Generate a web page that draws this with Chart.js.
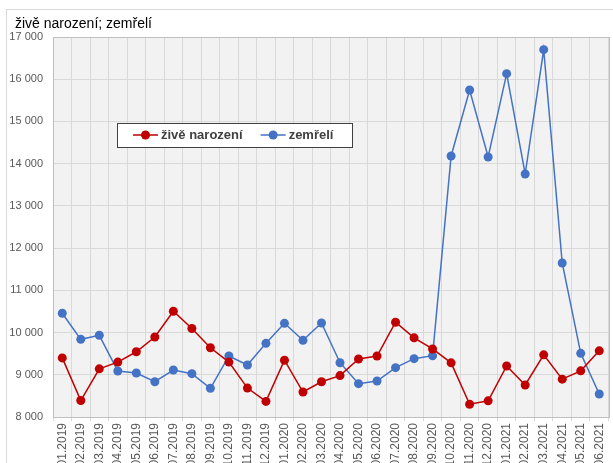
<!DOCTYPE html>
<html lang="cs">
<head>
    <meta charset="UTF-8">
    <title>živě narození; zemřelí</title>
    <script src="https://cdn.jsdelivr.net/npm/chart.js"></script>
    <style>
        html, body {
            margin: 0;
            padding: 0;
            background: #fff;
            overflow: hidden;
            width: 613px;
            height: 463px;
        }
        .frame {
            position: absolute;
            left: 6px;
            top: 9px;
            width: 700px;
            height: 600px;
            border: 1px solid #d9d9d9;
        }
        .title {
            position: absolute;
            left: 15px;
            top: 15px;
            font-family: 'Liberation Sans', Arial, sans-serif;
            font-size: 14px;
            line-height: 16px;
            color: #000;
        }
        canvas {
            position: absolute;
            left: 0;
            top: 0;
        }
    </style>
</head>
<body>
    <div class="frame"></div>
    <canvas id="chart" width="613" height="470"></canvas>
    <div class="title">živě narození; zemřelí</div>
    <script>
        // months
        const months = [
            '01.2019', '02.2019', '03.2019', '04.2019', '05.2019', '06.2019',
            '07.2019', '08.2019', '09.2019', '10.2019', '11.2019', '12.2019',
            '01.2020', '02.2020', '03.2020', '04.2020', '05.2020', '06.2020',
            '07.2020', '08.2020', '09.2020', '10.2020', '11.2020', '12.2020',
            '01.2021', '02.2021', '03.2021', '04.2021', '05.2021', '06.2021'
        ];

        // živě narození
        const births = [
            9400, 8390, 9140, 9300, 9545, 9895,
            10505, 10095, 9640, 9300, 8685, 8370,
            9345, 8592, 8835, 8980, 9374, 9445,
            10245, 9875, 9611, 9283, 8303, 8383,
            9208, 8758, 9472, 8896, 9094, 9567
        ];

        // zemřelí
        const deaths = [
            10456, 9840, 9935, 9090, 9042, 8836,
            9113, 9026, 8680, 9445, 9232, 9745,
            10219, 9816, 10225, 9286, 8789, 8853,
            9168, 9381, 9452, 14182, 15745, 14158,
            16131, 13755, 16700, 11647, 9508, 8545
        ];

        const yTicks = [8000, 9000, 10000, 11000, 12000, 13000, 14000, 15000, 16000, 17000];

        const fmt = v => String(v).replace(/\B(?=(\d{3})+(?!\d))/g, ' ');

        // gray plot background + frame
        const plotBg = {
            id: 'plotBg',
            beforeDraw(chart) {
                const a = chart.chartArea, ctx = chart.ctx;
                ctx.save();
                ctx.fillStyle = '#f2f2f2';
                ctx.fillRect(a.left, a.top, a.right - a.left, a.bottom - a.top);
                ctx.restore();
            },
            afterDatasetsDraw(chart) {
                const a = chart.chartArea, ctx = chart.ctx;
                ctx.save();
                ctx.strokeStyle = '#bfbfbf';
                ctx.lineWidth = 1;
                ctx.strokeRect(Math.round(a.left) + 0.5, Math.round(a.top) + 0.5,
                    Math.round(a.right - a.left), Math.round(a.bottom - a.top));
                ctx.restore();
            }
        };

        // legend box inside the plot
        const boxLegend = {
            id: 'boxLegend',
            afterDraw(chart) {
                const ctx = chart.ctx;
                const x0 = 117, y0 = 123, w = 235, h = 24;
                const cy = y0 + h / 2;
                ctx.save();
                ctx.fillStyle = '#fff';
                ctx.fillRect(x0, y0, w, h);
                ctx.strokeStyle = '#404040';
                ctx.lineWidth = 1;
                ctx.strokeRect(x0 + 0.5, y0 + 0.5, w, h);
                ctx.font = "bold 13px 'Liberation Sans', Arial, sans-serif";
                ctx.textBaseline = 'middle';
                let x = 133;
                chart.data.datasets.forEach(ds => {
                    ctx.strokeStyle = ds.borderColor;
                    ctx.lineWidth = 1.5;
                    ctx.beginPath();
                    ctx.moveTo(x, cy);
                    ctx.lineTo(x + 25, cy);
                    ctx.stroke();
                    ctx.fillStyle = ds.backgroundColor;
                    ctx.beginPath();
                    ctx.arc(x + 12.5, cy, 4.5, 0, Math.PI * 2);
                    ctx.fill();
                    ctx.fillStyle = '#404040';
                    ctx.fillText(ds.label, x + 28, cy + 0.5);
                    x += 28 + ctx.measureText(ds.label).width + 18;
                });
                ctx.restore();
            }
        };

        new Chart(document.getElementById('chart').getContext('2d'), {
            type: 'line',
            data: {
                labels: months,
                datasets: [{
                    label: 'živě narození',
                    data: births,
                    borderColor: '#c00000',
                    backgroundColor: '#c00000',
                    borderWidth: 1.5,
                    pointRadius: 4.5,
                    pointBorderWidth: 0,
                    tension: 0
                }, {
                    label: 'zemřelí',
                    data: deaths,
                    borderColor: '#4472c4',
                    backgroundColor: '#4472c4',
                    borderWidth: 1.5,
                    pointRadius: 4.5,
                    pointBorderWidth: 0,
                    tension: 0
                }]
            },
            options: {
                responsive: false,
                animation: false,
                layout: { padding: { left: 0, top: 37, right: 0, bottom: 0 } },
                plugins: {
                    legend: { display: false },
                    title: { display: false },
                    tooltip: { enabled: false }
                },
                scales: {
                    x: {
                        offset: true,
                        grid: {
                            offset: true,
                            color: '#d9d9d9',
                            drawTicks: true,
                            tickLength: 4,
                            tickColor: '#d9d9d9'
                        },
                        border: { display: false },
                        ticks: {
                            autoSkip: false,
                            minRotation: 90,
                            maxRotation: 90,
                            padding: 2,
                            color: '#595959',
                            font: { family: "'Liberation Sans', Arial, sans-serif", size: 12 }
                        },
                        afterFit(scale) {
                            scale.height = 53;
                            scale.paddingRight = 4;
                        }
                    },
                    y: {
                        min: 8000,
                        max: 17000,
                        afterBuildTicks(scale) {
                            scale.ticks = yTicks.map(v => ({ value: v }));
                        },
                        grid: { color: '#d9d9d9', drawTicks: false },
                        border: { display: false },
                        ticks: {
                            padding: 10,
                            color: '#595959',
                            font: { family: "'Liberation Sans', Arial, sans-serif", size: 11 },
                            callback: v => fmt(v)
                        },
                        afterFit(scale) { scale.width = 53; }
                    }
                }
            },
            plugins: [plotBg, boxLegend]
        });
    </script>
</body>
</html>
